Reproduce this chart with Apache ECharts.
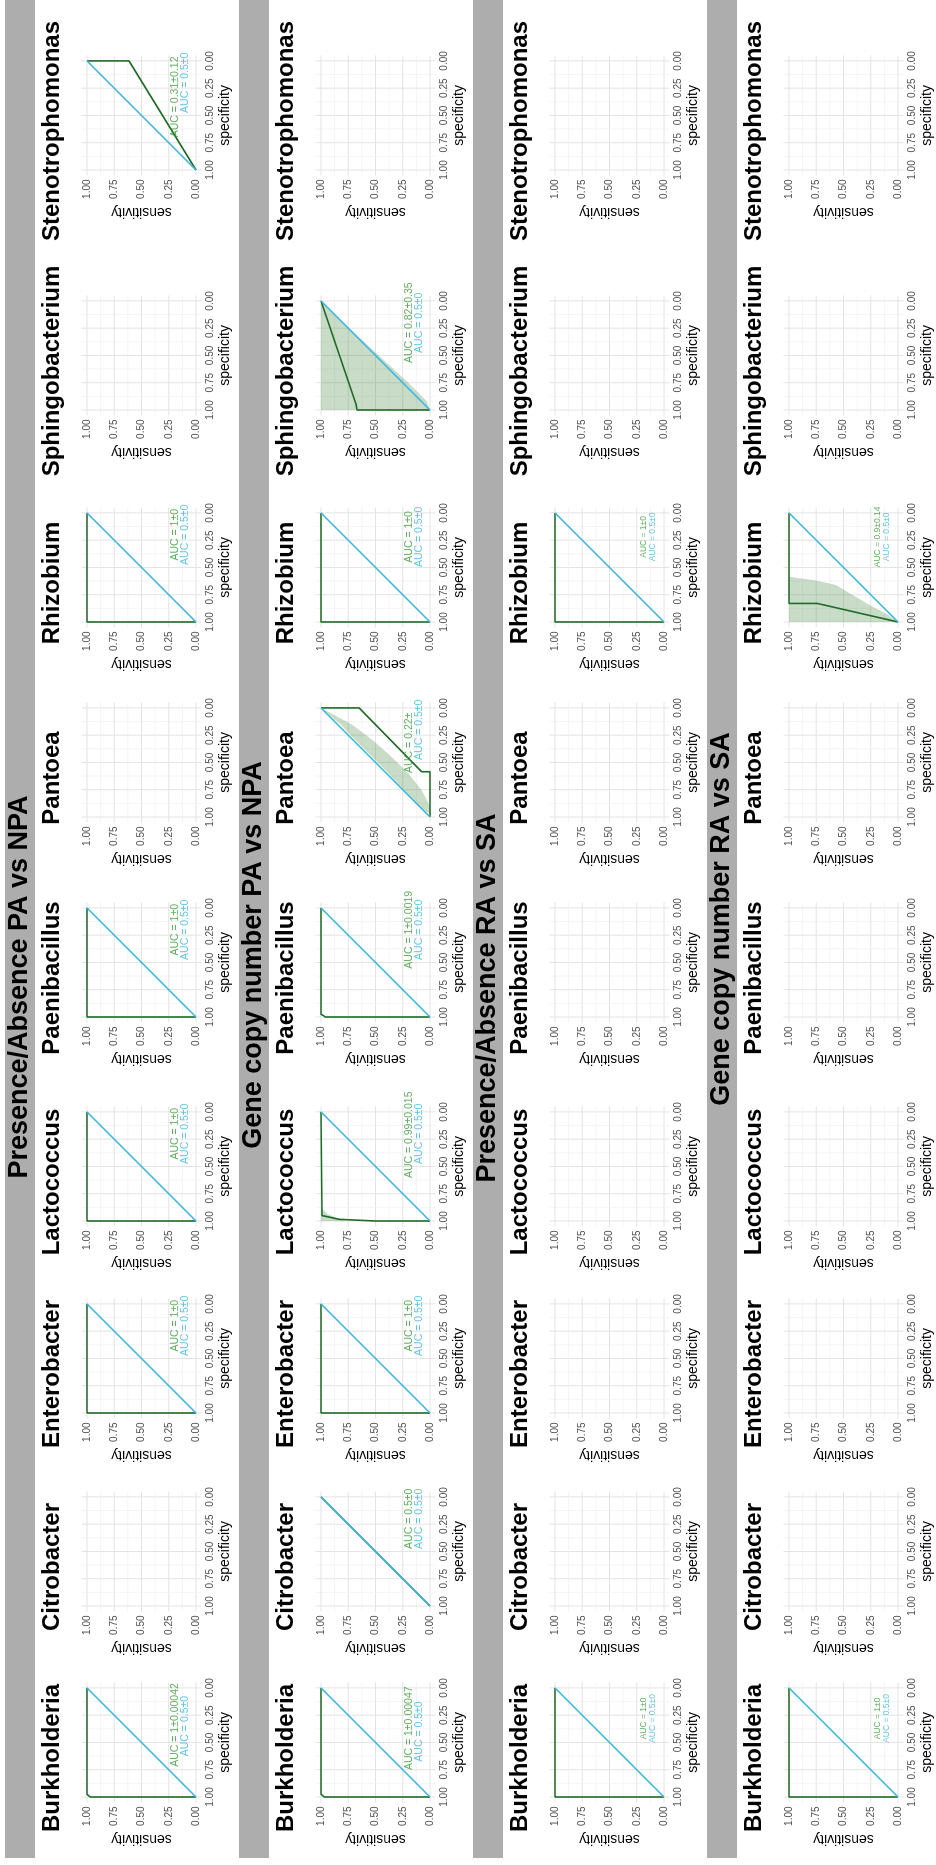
<!DOCTYPE html>
<html>
<head>
<meta charset="utf-8">
<script src="https://cdn.jsdelivr.net/npm/echarts@6/dist/echarts.min.js"></script>
<style>
html, body { margin: 0; padding: 0; background: #fff; overflow: hidden; }
#wrap { position: absolute; left: 0; top: 0; width: 936px; height: 1865px; overflow: hidden; }
/* landscape figure turned a quarter turn counter-clockwise */
#chart { position: absolute; left: 0; top: 0; width: 1865px; height: 936px;
         transform-origin: 0 0; transform: translate(0, 1865px) rotate(-90deg); }
</style>
</head>
<body>
<div id="wrap"><div id="chart"></div></div>
<script>
// ---------- data ----------
const rowTitles = [
  'Presence/Absence PA vs NPA',
  'Gene copy number PA vs NPA',
  'Presence/Absence RA vs SA',
  'Gene copy number RA vs SA'
];
const genera = ['Burkholderia', 'Citrobacter', 'Enterobacter', 'Lactococcus', 'Paenibacillus',
                'Pantoea', 'Rhizobium', 'Sphingobacterium', 'Stenotrophomonas'];
const tickValues = [0, 0.25, 0.5, 0.75, 1];
const gridValues = [0, 0.125, 0.25, 0.375, 0.5, 0.625, 0.75, 0.875, 1];
const chanceCurve = [[1, 0], [0, 1]];           // [specificity, sensitivity]

// ROC curves, [specificity, sensitivity]; null = no model for that genus
const rocPresencePA = [
  [[1, 0], [1, 0.97], [0.975, 1], [0, 1]],
  null,
  [[1, 0], [1, 1], [0, 1]],
  [[1, 0], [1, 1], [0, 1]],
  [[1, 0], [1, 1], [0, 1]],
  null,
  [[1, 0], [1, 1], [0, 1]],
  null,
  [[1, 0], [0, 0.615], [0, 1]]
];
const rocCopyPA = [
  [[1, 0], [1, 0.97], [0.975, 1], [0, 1]],
  [[1, 0], [0, 1]],
  [[1, 0], [1, 1], [0, 1]],
  [[1, 0], [1, 0.5], [0.985, 0.83], [0.95, 0.99], [0.94, 1], [0, 1]],
  [[1, 0], [1, 0.96], [0.985, 0.98], [0.975, 1], [0, 1]],
  [[1, 0], [0.585, 0], [0.585, 0.077], [0, 0.65], [0, 1]],
  [[1, 0], [1, 1], [0, 1]],
  [[1, 0], [1, 0.67], [0.94, 0.68], [0, 1]],
  null
];
const rocPresenceRA = [
  [[1, 0], [1, 1], [0, 1]],
  null, null, null, null, null,
  [[1, 0], [1, 1], [0, 1]],
  null, null
];
const rocCopyRA = [
  [[1, 0], [1, 1], [0, 1]],
  null, null, null, null, null,
  [[1, 0], [0.83, 0.74], [0.83, 1], [0, 1]],
  null, null
];

// confidence bands, [specificity, lower sensitivity, upper sensitivity]
const bandLactococcusCopyPA = [[1, 0.78, 1], [0.97, 0.86, 1], [0.94, 0.93, 1], [0.9, 0.98, 1], [0.87, 1, 1]];
const bandPantoeaCopyPA = [[0, 1, 1], [0.15, 0.72, 0.82], [0.3, 0.52, 0.68], [0.45, 0.35, 0.53], [0.6, 0.2, 0.38],
                           [0.75, 0.08, 0.24], [0.9, 0, 0.1], [0.96, 0, 0.03]];
const bandSphingoCopyPA = [[0, 1, 1], [0.25, 0.74, 1], [0.5, 0.47, 1], [0.75, 0.2, 1], [0.92, 0.03, 1], [1, 0, 1]];
const bandRhizobiumCopyRA = [[0.585, 1, 1], [0.62, 0.75, 1], [0.66, 0.57, 1], [0.75, 0.42, 1], [0.85, 0.25, 1],
                             [0.93, 0.1, 1], [1, 0, 1]];

// AUC annotations: [model, chance]
const aucPresencePA = [
  ['AUC = 1±0.00042', 'AUC = 0.5±0'], null, ['AUC = 1±0', 'AUC = 0.5±0'], ['AUC = 1±0', 'AUC = 0.5±0'],
  ['AUC = 1±0', 'AUC = 0.5±0'], null, ['AUC = 1±0', 'AUC = 0.5±0'], null, ['AUC = 0.31±0.12', 'AUC = 0.5±0']
];
const aucCopyPA = [
  ['AUC = 1±0.00047', 'AUC = 0.5±0'], ['AUC = 0.5±0', 'AUC = 0.5±0'], ['AUC = 1±0', 'AUC = 0.5±0'],
  ['AUC = 0.99±0.015', 'AUC = 0.5±0'], ['AUC = 1±0.0019', 'AUC = 0.5±0'], ['AUC = 0.22±', 'AUC = 0.5±0'],
  ['AUC = 1±0', 'AUC = 0.5±0'], ['AUC = 0.82±0.35', 'AUC = 0.5±0'], null
];
const aucPresenceRA = [
  ['AUC = 1±0', 'AUC = 0.5±0'], null, null, null, null, null, ['AUC = 1±0', 'AUC = 0.5±0'], null, null
];
const aucCopyRA = [
  ['AUC = 1±0', 'AUC = 0.5±0'], null, null, null, null, null, ['AUC = 0.9±0.14', 'AUC = 0.5±0'], null, null
];

// ---------- layout & style ----------
const FONT = '"Liberation Sans", Arial, Helvetica, sans-serif';
const GREEN = '#1f6a26';
const GREEN_TEXT = '#3a9a36';
const BLUE = '#3db6df';
const BAND_FILL = 'rgba(50,125,50,0.27)';
const ROW_H = 234;
const PANEL = 120;                          // expanded panel, -0.05 .. 1.05
const colOrigin = [68, 259, 452, 644, 848, 1048, 1243, 1455, 1695];
const rowTitleX = [878, 910, 867, 946];
// where each AUC pair is centred along specificity, [model, chance]
const labelSpec = [
  [[0.34, 0.35], null, [0.2, 0.2], [0.2, 0.2], [0.2, 0.2], null, [0.2, 0.2], null, [0.33, 0.2]],
  [[0.37, 0.4], [0.2, 0.2], [0.2, 0.2], [0.21, 0.2], [0.2, 0.2], [0.32, 0.2], [0.22, 0.22], [0.2, 0.2], null],
  [[0.28, 0.28], null, null, null, null, null, [0.22, 0.22], null, null],
  [[0.28, 0.28], null, null, null, null, null, [0.22, 0.22], null, null]
];
const labelSize = [10.5, 10.5, 8.5, 8.5];

const rows = [
  { roc: rocPresencePA, auc: aucPresencePA, bands: {} },
  { roc: rocCopyPA, auc: aucCopyPA, bands: { 3: bandLactococcusCopyPA, 5: bandPantoeaCopyPA, 7: bandSphingoCopyPA } },
  { roc: rocPresenceRA, auc: aucPresenceRA, bands: {} },
  { roc: rocCopyRA, auc: aucCopyRA, bands: { 6: bandRhizobiumCopyRA } }
];

// ---------- build ----------
function renderPanelGrid(params, api) {
  const children = [];
  gridValues.forEach(v => {
    const major = Math.abs(v * 4 - Math.round(v * 4)) < 1e-9;
    const style = { stroke: major ? '#e3e3e3' : '#f0f0f0', lineWidth: major ? 1 : 0.7 };
    const a = api.coord([v, -0.05]), b = api.coord([v, 1.05]);
    const c = api.coord([-0.05, v]), d = api.coord([1.05, v]);
    children.push({ type: 'line', shape: { x1: a[0], y1: a[1], x2: b[0], y2: b[1] }, style });
    children.push({ type: 'line', shape: { x1: c[0], y1: c[1], x2: d[0], y2: d[1] }, style });
  });
  return { type: 'group', children };
}

const grid = [], xAxis = [], yAxis = [], series = [], graphic = [];

rows.forEach((row, r) => {
  graphic.push({ type: 'rect', silent: true, z: 0,
    shape: { x: 7, y: r * ROW_H + 5, width: 1870, height: 30 }, style: { fill: '#adadad' } });
  graphic.push({ type: 'text', silent: true, z: 1, x: rowTitleX[r], y: r * ROW_H + 20,
    style: { text: rowTitles[r], fill: '#000', font: 'bold 27px ' + FONT, align: 'center', verticalAlign: 'middle' } });

  genera.forEach((name, c) => {
    const idx = r * genera.length + c;
    const ox = colOrigin[c];
    graphic.push({ type: 'text', silent: true, z: 1, x: ox + 39, y: r * ROW_H + 52,
      style: { text: name, fill: '#000', font: 'bold 24px ' + FONT, align: 'center', verticalAlign: 'middle' } });

    grid.push({ left: ox - 5.45, top: r * ROW_H + 81.5, width: PANEL, height: PANEL, containLabel: false });
    const common = {
      gridIndex: idx, type: 'value', min: -0.05, max: 1.05,
      axisLine: { show: false }, axisTick: { show: false }, splitLine: { show: false },
      axisLabel: { customValues: tickValues, formatter: v => v.toFixed(2), fontSize: 10, color: '#4d4d4d',
                   fontFamily: FONT, margin: 4 },
      nameLocation: 'middle', nameTextStyle: { fontSize: 14, color: '#000', fontFamily: FONT }
    };
    xAxis.push(Object.assign({}, common, { inverse: true, name: 'specificity', nameGap: 17 }));
    yAxis.push(Object.assign({}, common, { name: 'sensitivity', nameGap: 29 }));

    const axes = { xAxisIndex: idx, yAxisIndex: idx, silent: true, animation: false };

    // panel grid lines, major and minor
    series.push(Object.assign({ type: 'custom', z: 1, data: [[0.5, 0.5]], renderItem: renderPanelGrid }, axes));

    const band = row.bands[c];
    if (band) {
      series.push(Object.assign({ type: 'custom', z: 2, data: [[0.5, 0.5]],
        renderItem: (params, api) => {
          const pts = band.map(b => api.coord([b[0], b[1]]))
            .concat(band.slice().reverse().map(b => api.coord([b[0], b[2]])));
          return { type: 'polygon', shape: { points: pts }, style: { fill: BAND_FILL } };
        } }, axes));
    }
    const roc = row.roc[c];
    if (roc) {
      series.push(Object.assign({ type: 'line', data: roc, symbol: 'none', z: 3,
        lineStyle: { color: GREEN, width: 1.6 } }, axes));
      series.push(Object.assign({ type: 'line', data: chanceCurve, symbol: 'none', z: 4,
        lineStyle: { color: BLUE, width: 1.6 } }, axes));
    }
    const auc = row.auc[c];
    if (auc) {
      const at = labelSpec[r][c];
      series.push(Object.assign({ type: 'scatter', symbolSize: 0, z: 5,
        label: { show: true, position: 'inside', fontSize: labelSize[r], fontFamily: FONT,
                 formatter: p => p.data.text },
        data: [
          { value: [at[0], 0.19], text: auc[0], label: { color: GREEN_TEXT } },
          { value: [at[1], 0.10], text: auc[1], label: { color: BLUE } }
        ] }, axes));
    }
  });
});

const chart = echarts.init(document.getElementById('chart'), null, { renderer: 'canvas' });
chart.setOption({
  animation: false,
  backgroundColor: '#ffffff',
  textStyle: { fontFamily: FONT },
  grid, xAxis, yAxis, series, graphic
});
</script>
</body>
</html>
